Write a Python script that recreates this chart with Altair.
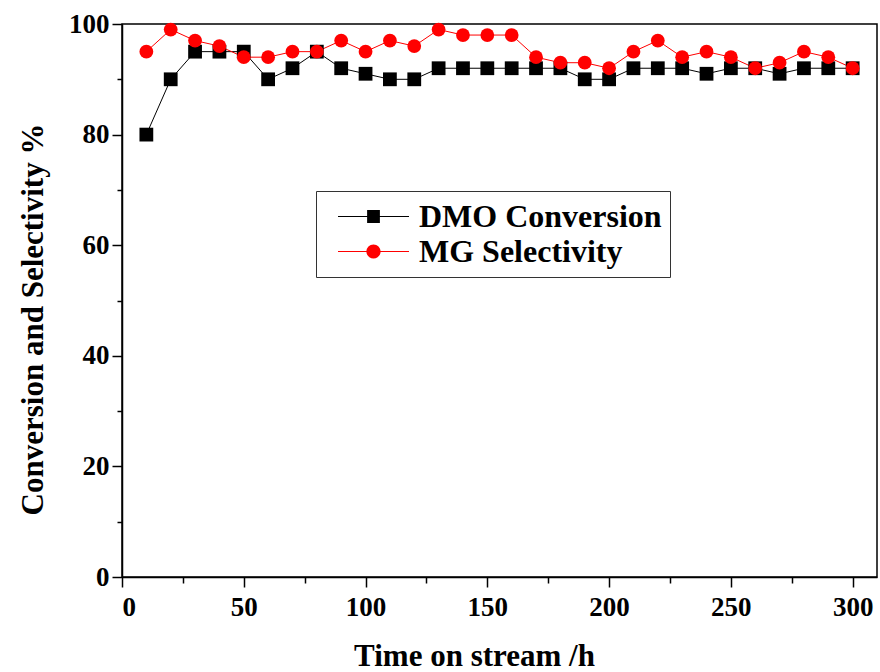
import altair as alt
import pandas as pd

# ---- data ----
time_h = [10, 20, 30, 40, 50, 60, 70, 80, 90, 100,
          110, 120, 130, 140, 150, 160, 170, 180, 190, 200,
          210, 220, 230, 240, 250, 260, 270, 280, 290, 300]
dmo_conversion = [80, 90, 95, 95, 95, 90, 92, 95, 92, 91,
                  90, 90, 92, 92, 92, 92, 92, 92, 90, 90,
                  92, 92, 92, 91, 92, 92, 91, 92, 92, 92]
mg_selectivity = [95, 99, 97, 96, 94, 94, 95, 95, 97, 95,
                  97, 96, 99, 98, 98, 98, 94, 93, 93, 92,
                  95, 97, 94, 95, 94, 92, 93, 95, 94, 92]
series_names = ["DMO Conversion", "MG Selectivity"]
series_colors = ["#000000", "#ff0000"]
x_ticks = [0, 25, 50, 75, 100, 125, 150, 175, 200, 225, 250, 275, 300]
y_ticks = [0, 10, 20, 30, 40, 50, 60, 70, 80, 90, 100]

df = pd.concat([
    pd.DataFrame({"time": time_h, "value": dmo_conversion, "series": series_names[0]}),
    pd.DataFrame({"time": time_h, "value": mg_selectivity, "series": series_names[1]}),
], ignore_index=True)

FONT = "Liberation Serif"

# legend symbols: line segment + marker (custom paths in unit space)
sq_path = ("M-1,-0.016H1V0.016H-1Z "
           "M-0.18,-0.18H0.18V0.18H-0.18Z")
ci_path = ("M-1,-0.016H-0.19V0.016H-1Z M0.19,-0.016H1V0.016H0.19Z "
           "M0.2,0A0.2,0.2,0,1,1,-0.2,0A0.2,0.2,0,1,1,0.2,0Z")

x_enc = alt.X("time:Q",
              scale=alt.Scale(domain=[0, 310], nice=False, zero=False),
              axis=alt.Axis(values=x_ticks, title="Time on stream /h",
                            labelExpr="datum.value % 50 === 0 ? datum.label : ''",
                            tickSize={"condition": {"test": "datum.value % 50 === 0", "value": 10}, "value": 6},
                            labelPadding=7, titleX=352, titleY=88,
                            titleBaseline="alphabetic", titleAlign="center",
                            titleAnchor="start"))
y_enc = alt.Y("value:Q",
              scale=alt.Scale(domain=[0, 100], nice=False),
              axis=alt.Axis(values=y_ticks, title="Conversion and Selectivity %",
                            labelExpr="datum.value % 20 === 0 ? datum.label : ''",
                            tickSize={"condition": {"test": "datum.value % 20 === 0", "value": 10}, "value": 5},
                            labelPadding=3, titleX=-80, titleY=295,
                            titleAngle=-90, titleBaseline="alphabetic",
                            titleAlign="center", titleAnchor="start"))

color_scale = alt.Scale(domain=series_names, range=series_colors)

base = alt.Chart(df)

lines = base.mark_line(strokeWidth=1).encode(
    x=x_enc, y=y_enc,
    color=alt.Color("series:N", scale=color_scale, legend=None),
)

points = base.mark_point(filled=True, opacity=1, size=190).encode(
    x="time:Q", y="value:Q",
    color=alt.Color("series:N", scale=color_scale, legend=None),
    shape=alt.Shape("series:N",
                    scale=alt.Scale(domain=series_names, range=["square", "circle"]),
                    legend=None),
)

leg = alt.Legend(title=None, orient="none", legendX=194, legendY=167,
                 labelFont=FONT, labelFontSize=32, labelFontWeight="bold",
                 labelColor="black", labelOffset=10, symbolOffset=14,
                 symbolSize=5041, symbolStrokeWidth=0, clipHeight=35,
                 rowPadding=0, padding=8, strokeColor="#333333",
                 fillColor="white", labelLimit=400)

legend_layer = base.mark_point(filled=True, opacity=1, size=5041).encode(
    color=alt.Color("series:N", scale=color_scale, legend=leg),
    shape=alt.Shape("series:N",
                    scale=alt.Scale(domain=series_names, range=[sq_path, ci_path]),
                    legend=leg),
).transform_filter("false")

chart = alt.layer(lines, points, legend_layer).resolve_scale(
    color="independent", shape="independent"
).properties(
    width=755, height=553, autosize="none",
    padding={"left": 122, "top": 24, "right": 3, "bottom": 95},
    background="white",
).configure_view(
    stroke="black", strokeWidth=1.5
).configure_axis(
    grid=False, domainColor="black", domainWidth=1.5,
    tickColor="black", tickWidth=1.5,
    labelFont=FONT, labelFontSize=27, labelFontWeight="bold", labelColor="black",
    titleFont=FONT, titleFontSize=31, titleFontWeight="bold", titleColor="black",
)

chart.save("out.html", embed_options={"renderer": "svg", "actions": False})
